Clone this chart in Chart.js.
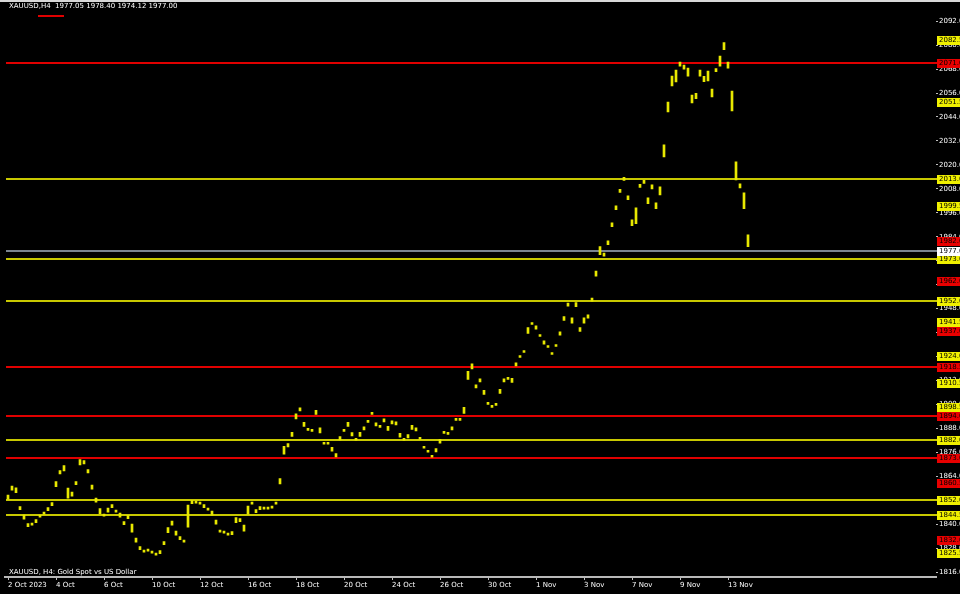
<!DOCTYPE html>
<html>
<head>
<meta charset="utf-8">
<title>XAUUSD H4</title>
<script src="https://cdn.jsdelivr.net/npm/chart.js@4.4.1/dist/chart.umd.min.js"></script>
<style>
    html, body { margin: 0; padding: 0; background: #000; }
    canvas { display: block; }
</style>
</head>
<body>
<canvas id="priceChart" width="960" height="594"></canvas>
<script>
// Candle ranges (high / low of each H4 bar)
const highs = [
    1854.5, 1859, 1858.2, 1848.8, 1844.5, 1840.3, 1840.5, 1842.3, 1844.5, 1846,
    1848.3, 1850.8, 1861.3, 1866.8, 1869.3, 1858, 1856, 1861.3, 1872.3, 1871.8,
    1867.3, 1859.5, 1853, 1847.8, 1845, 1848, 1849.8, 1847, 1845.5, 1841.3,
    1844.3, 1840, 1833, 1828.8, 1827, 1827.5, 1826.5, 1825.5, 1826.8, 1831.3,
    1838.3, 1841.5, 1836.5, 1833.8, 1832, 1849.5, 1851.8, 1851.5, 1851, 1849.8,
    1848, 1846.5, 1842, 1837, 1836.5, 1835.5, 1836.3, 1843.3, 1842.8, 1839.5,
    1849, 1851, 1847.3, 1848.8, 1848.5, 1848.5, 1849, 1851, 1862.8, 1879,
    1880.3, 1886, 1895.3, 1898.3, 1891, 1888, 1887.5, 1897, 1888.3, 1881,
    1881, 1878.5, 1875.3, 1883.8, 1887.5, 1891, 1885.8, 1883, 1886, 1888.8,
    1892, 1896, 1890.8, 1889.5, 1892.8, 1889, 1891.8, 1891.3, 1885.5, 1883,
    1884.8, 1889.5, 1888.3, 1883.5, 1879, 1877, 1874.5, 1877.8, 1882.5, 1886.5,
    1886, 1888.8, 1893, 1893, 1898.5, 1916.5, 1920.3, 1909.8, 1912.8, 1907,
    1901, 1899.5, 1900.5, 1907.5, 1912.8, 1913.5, 1913, 1920.8, 1924.5, 1927,
    1938.5, 1941, 1939.3, 1935, 1931.8, 1929.5, 1926, 1930, 1936.3, 1944,
    1950.8, 1943.3, 1951, 1938.5, 1943.3, 1944.8, 1953.3, 1966.8, 1979, 1975.8,
    1982, 1991, 1999.5, 2007.8, 2013.8, 2004.5, 1992.5, 1998.5, 2010.3, 2012.3,
    2003.5, 2010, 2001, 2009, 2030, 2051.5, 2064.5, 2067.5, 2071.5, 2070,
    2068.5, 2055, 2055.8, 2067.5, 2064.3, 2067, 2058, 2068.3, 2074.5, 2081.3,
    2071.5, 2057, 2021.5, 2010.5, 2006, 1985
];
const lows = [
    1852.5, 1857, 1855.8, 1847.2, 1842.5, 1838.7, 1839.5, 1840.7, 1843.5, 1845,
    1846.7, 1849.2, 1858.7, 1865.2, 1866.7, 1853, 1854, 1859.7, 1869.7, 1870.2,
    1865.7, 1857.5, 1851, 1845.2, 1844, 1846, 1848.2, 1846, 1843.5, 1839.7,
    1842.7, 1836, 1831, 1827.2, 1826, 1826.5, 1825.5, 1824.5, 1825.2, 1829.7,
    1835.7, 1839.5, 1834.5, 1832.2, 1831, 1838.5, 1850.2, 1850.5, 1850, 1848.2,
    1847, 1844.5, 1840, 1836, 1835.5, 1834.5, 1834.7, 1840.7, 1841.2, 1836.5,
    1845, 1850, 1845.7, 1847.2, 1847.5, 1847.5, 1848, 1850, 1860.2, 1875,
    1878.7, 1884, 1892.7, 1896.7, 1889, 1887, 1886.5, 1895, 1885.7, 1880,
    1880, 1876.5, 1873.7, 1882.2, 1886.5, 1889, 1884.2, 1882, 1884, 1887.2,
    1891, 1895, 1889.2, 1888.5, 1891.2, 1887, 1890.2, 1889.7, 1883.5, 1882,
    1883.2, 1887.5, 1886.7, 1882.5, 1878, 1876, 1873.5, 1876.2, 1880.5, 1885.5,
    1885, 1887.2, 1892, 1892, 1895.5, 1912.5, 1917.7, 1908.2, 1911.2, 1905,
    1900, 1898.5, 1899.5, 1905.5, 1911.2, 1912.5, 1911, 1919.2, 1923.5, 1926,
    1935.5, 1940, 1937.7, 1934, 1930.2, 1928.5, 1925, 1929, 1934.7, 1942,
    1949.2, 1940.7, 1949, 1936.5, 1940.7, 1943.2, 1951.7, 1964.2, 1975, 1974.2,
    1980, 1989, 1997.5, 2006.2, 2012.2, 2002.5, 1989.5, 1990.5, 2008.7, 2010.7,
    2000.5, 2008, 1998, 2005, 2024, 2046.5, 2059.5, 2061.5, 2069.5, 2068,
    2064.5, 2051, 2053.2, 2064.5, 2061.7, 2062, 2054, 2066.7, 2069.5, 2077.7,
    2068.5, 2047, 2012.5, 2008.5, 1998, 1979
];

// Horizontal levels drawn on the chart
const redLevels = [2071, 1918.5, 1894, 1873];
const yellowLevels = [2013, 1973, 1952, 1882, 1852, 1844.5];
const lastPrice = 1977;

// Price tags on the right-hand scale
const yellowTags = [2082.5, 2051.5, 2013, 1999.5, 1973, 1952, 1941.5, 1924, 1910.5, 1898.5, 1882, 1852, 1844.5, 1825.5];
const redTags = [2071, 1982, 1962, 1937, 1918.5, 1894, 1873, 1860.5, 1832];

// Axis ticks
const priceTicks = [2092, 2080, 2068, 2056, 2044, 2032, 2020, 2008, 1996, 1984, 1972, 1960,
    1948, 1936, 1924, 1912, 1900, 1888, 1876, 1864, 1852, 1840, 1828, 1816];
const timeTicks = [0, 12, 24, 36, 48, 60, 72, 84, 96, 108, 120, 132, 144, 156, 168, 180];
const timeLabels = ['2 Oct 2023', '4 Oct', '6 Oct', '10 Oct', '12 Oct', '16 Oct', '18 Oct', '20 Oct',
    '24 Oct', '26 Oct', '30 Oct', '1 Nov', '3 Nov', '7 Nov', '9 Nov', '13 Nov'];

const FONT = 'DejaVu Sans';
const candleData = highs.map((h, i) => ({ x: i, y: [lows[i], h] }));

// Levels, tags and captions drawn over the chart
const terminalOverlay = {
    id: 'terminalOverlay',
    beforeDatasetsDraw(chart) {
        const { ctx, chartArea, scales } = chart;
        const drawLevel = (price, color) => {
            const y = Math.round(scales.y.getPixelForValue(price));
            ctx.fillStyle = color;
            ctx.fillRect(chartArea.left + 1, y - 1, chartArea.right - chartArea.left, 2);
        };
        ctx.save();
        yellowLevels.forEach(p => drawLevel(p, '#c8c800'));
        redLevels.forEach(p => drawLevel(p, '#e00000'));
        drawLevel(lastPrice, '#7a848e');
        ctx.restore();
    },
    afterDraw(chart) {
        const { ctx, scales } = chart;
        ctx.save();
        ctx.font = `7px "${FONT}"`;
        ctx.textBaseline = 'middle';

        const drawTag = (price, bg, fg) => {
            const y = Math.round(scales.y.getPixelForValue(price));
            ctx.fillStyle = bg;
            ctx.fillRect(937, y - 4, 23, 9);
            ctx.fillStyle = fg;
            ctx.fillText(price.toFixed(2), 939, y + 0.5);
        };
        yellowTags.forEach(p => drawTag(p, '#f0f000', '#000'));
        redTags.forEach(p => drawTag(p, '#e80000', '#000'));
        drawTag(lastPrice, '#ffffff', '#000');

        // top frame line
        ctx.fillStyle = '#d8d8d8';
        ctx.fillRect(0, 0, 960, 2);

        // symbol caption and indicator legend
        ctx.fillStyle = '#ffffff';
        ctx.fillText('XAUUSD,H4  1977.05 1978.40 1974.12 1977.00', 9, 6);
        ctx.fillStyle = '#e00000';
        ctx.fillRect(38, 15, 26, 2);

        ctx.fillStyle = '#ffffff';
        ctx.fillText('XAUUSD, H4: Gold Spot vs US Dollar', 9, 572);
        ctx.restore();
    }
};

new Chart(document.getElementById('priceChart'), {
    type: 'bar',
    data: {
        datasets: [{
            data: candleData,
            backgroundColor: '#e8e800',
            borderWidth: 0,
            barThickness: 2,
            grouped: false
        }]
    },
    options: {
        responsive: false,
        animation: false,
        layout: { padding: { left: 5, top: 4, right: 0, bottom: 0 } },
        plugins: {
            legend: { display: false },
            tooltip: { enabled: false }
        },
        scales: {
            x: {
                type: 'linear',
                offset: false,
                min: -0.75,
                max: 232,
                grid: { drawOnChartArea: false, offset: false, color: '#c0c0c0', tickLength: 3 },
                border: { color: '#b8b8b8', width: 2 },
                ticks: {
                    color: '#ffffff',
                    font: { family: FONT, size: 7 },
                    maxRotation: 0,
                    autoSkip: false,
                    align: 'start',
                    padding: 1,
                    callback: v => {
                        const k = timeTicks.indexOf(v);
                        return k < 0 ? '' : timeLabels[k];
                    }
                },
                afterBuildTicks: s => { s.ticks = timeTicks.map(v => ({ value: v })); },
                afterFit: s => { s.height = 17; }
            },
            y: {
                position: 'right',
                min: 1813.5,
                max: 2100,
                grid: { drawOnChartArea: false, color: '#c0c0c0', tickLength: 2 },
                border: { display: false },
                ticks: {
                    color: '#ffffff',
                    font: { family: FONT, size: 7 },
                    padding: 1,
                    callback: v => v.toFixed(2)
                },
                afterBuildTicks: s => { s.ticks = priceTicks.map(v => ({ value: v })); },
                afterFit: s => { s.width = 24; }
            }
        }
    },
    plugins: [terminalOverlay]
});
</script>
</body>
</html>
